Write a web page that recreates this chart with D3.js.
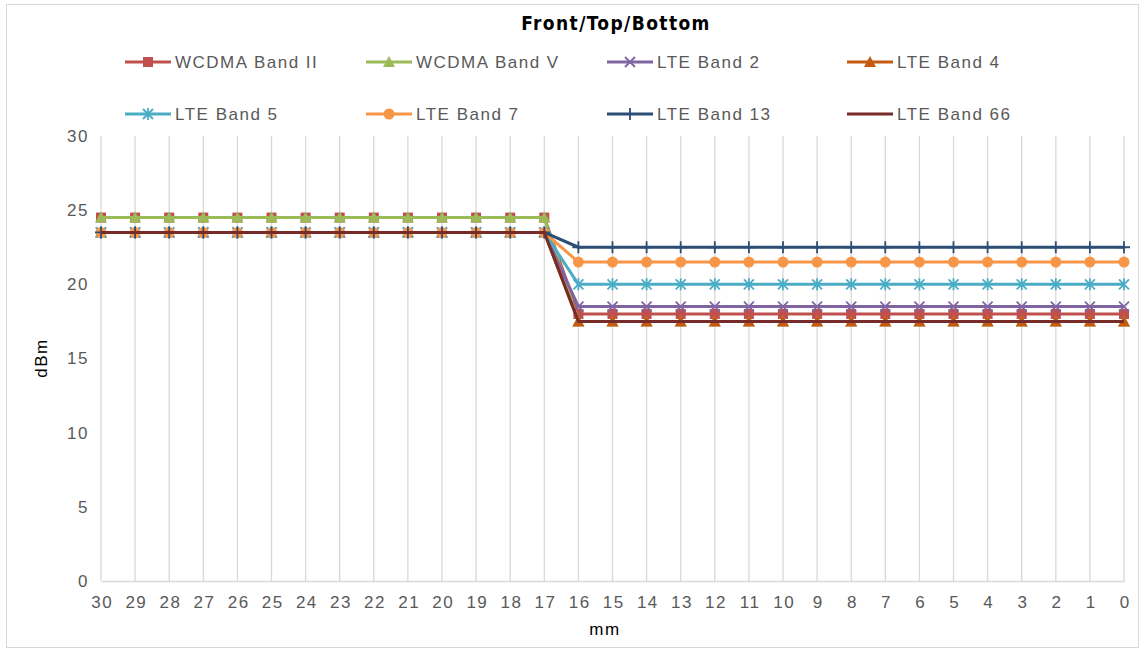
<!DOCTYPE html>
<html><head><meta charset="utf-8">
<script src="https://cdn.jsdelivr.net/npm/d3@7"></script>
<style>body{margin:0;background:#fff;}svg{display:block;}</style>
</head><body>
<svg id="c" width="1145" height="652"></svg>
<script>
const categories = [30,29,28,27,26,25,24,23,22,21,20,19,18,17,16,15,14,13,12,11,10,9,8,7,6,5,4,3,2,1,0];
const seriesNames = ["WCDMA Band II","WCDMA Band V","LTE Band 2","LTE Band 4","LTE Band 5","LTE Band 7","LTE Band 13","LTE Band 66"];
const wcdmaBandII  = [24.5,24.5,24.5,24.5,24.5,24.5,24.5,24.5,24.5,24.5,24.5,24.5,24.5,24.5,18,18,18,18,18,18,18,18,18,18,18,18,18,18,18,18,18];
const wcdmaBandV   = [24.5,24.5,24.5,24.5,24.5,24.5,24.5,24.5,24.5,24.5,24.5,24.5,24.5,24.5,17.5,17.5,17.5,17.5,17.5,17.5,17.5,17.5,17.5,17.5,17.5,17.5,17.5,17.5,17.5,17.5,17.5];
const lteBand2     = [23.5,23.5,23.5,23.5,23.5,23.5,23.5,23.5,23.5,23.5,23.5,23.5,23.5,23.5,18.5,18.5,18.5,18.5,18.5,18.5,18.5,18.5,18.5,18.5,18.5,18.5,18.5,18.5,18.5,18.5,18.5];
const lteBand4     = [23.5,23.5,23.5,23.5,23.5,23.5,23.5,23.5,23.5,23.5,23.5,23.5,23.5,23.5,17.5,17.5,17.5,17.5,17.5,17.5,17.5,17.5,17.5,17.5,17.5,17.5,17.5,17.5,17.5,17.5,17.5];
const lteBand5     = [23.5,23.5,23.5,23.5,23.5,23.5,23.5,23.5,23.5,23.5,23.5,23.5,23.5,23.5,20,20,20,20,20,20,20,20,20,20,20,20,20,20,20,20,20];
const lteBand7     = [23.5,23.5,23.5,23.5,23.5,23.5,23.5,23.5,23.5,23.5,23.5,23.5,23.5,23.5,21.5,21.5,21.5,21.5,21.5,21.5,21.5,21.5,21.5,21.5,21.5,21.5,21.5,21.5,21.5,21.5,21.5];
const lteBand13    = [23.5,23.5,23.5,23.5,23.5,23.5,23.5,23.5,23.5,23.5,23.5,23.5,23.5,23.5,22.5,22.5,22.5,22.5,22.5,22.5,22.5,22.5,22.5,22.5,22.5,22.5,22.5,22.5,22.5,22.5,22.5];
const lteBand66    = [23.5,23.5,23.5,23.5,23.5,23.5,23.5,23.5,23.5,23.5,23.5,23.5,23.5,23.5,17.5,17.5,17.5,17.5,17.5,17.5,17.5,17.5,17.5,17.5,17.5,17.5,17.5,17.5,17.5,17.5,17.5];
const yTicks = [0,5,10,15,20,25,30];
const colors = ["#C0504D","#9BBB59","#8064A2","#C55A11","#4BACC6","#F79646","#2C4D75","#772C2A"];
const markers = ["square","triangle","x","triangle","star","circle","plus","none"];
const seriesValues = [wcdmaBandII,wcdmaBandV,lteBand2,lteBand4,lteBand5,lteBand7,lteBand13,lteBand66];

const svg = d3.select("#c");
const font = "'Liberation Sans', Arial, sans-serif";
const ls = "1.5px";
svg.append("rect").attr("x",6.5).attr("y",4.5).attr("width",1132).attr("height",643)
  .attr("fill","#fff").attr("stroke","#d9d9d9").attr("stroke-width",1);

const x = d3.scalePoint().domain(categories).range([101,1124]);
const y = d3.scaleLinear().domain([0,30]).range([581,136]);

// vertical gridlines
const g = svg.append("g");
g.selectAll("line.vg").data(categories).join("line")
  .attr("x1",d=>x(d)).attr("x2",d=>x(d)).attr("y1",y(30)).attr("y2",y(0))
  .attr("stroke","#d9d9d9").attr("stroke-width",1.3);
// x axis
const xAxis = svg.append("g").attr("transform",`translate(0,${y(0)})`)
  .call(d3.axisBottom(x).tickSize(0).tickPadding(15));
xAxis.select(".domain").attr("stroke","#d9d9d9").attr("stroke-width",1.3);
xAxis.selectAll("text").attr("font-family",font).attr("font-size",17).attr("fill","#595959")
  .attr("letter-spacing",ls).attr("dx","0.75");
// y axis
const yAxis = svg.append("g").attr("transform",`translate(${x(30)},0)`)
  .call(d3.axisLeft(y).tickValues(yTicks).tickSize(0).tickPadding(12));
yAxis.select(".domain").remove();
yAxis.selectAll("text").attr("font-family",font).attr("font-size",17).attr("fill","#595959")
  .attr("letter-spacing",ls);

// titles
svg.append("text").attr("x",616).attr("y",30).attr("text-anchor","middle")
  .attr("font-family","'Liberation Sans Narrow','DejaVu Sans Condensed',Arial,sans-serif")
  .attr("font-weight","bold").attr("font-size",19).attr("letter-spacing","1.4px")
  .attr("fill","#000").text("Front/Top/Bottom");
svg.append("text").attr("x",605).attr("y",635).attr("text-anchor","middle")
  .attr("font-family",font).attr("font-size",17).attr("letter-spacing",ls)
  .attr("fill","#000").text("mm");
svg.append("text").attr("transform","translate(47,358) rotate(-90)").attr("text-anchor","middle")
  .attr("font-family",font).attr("font-size",17).attr("letter-spacing",ls)
  .attr("fill","#000").text("dBm");

function drawMarker(sel, type, color, cx, cy, s) {
  s = s || 1;
  if (type === "square") {
    sel.append("rect").attr("x",cx-5*s).attr("y",cy-5*s).attr("width",10*s).attr("height",10*s).attr("fill",color);
  } else if (type === "triangle") {
    sel.append("path").attr("d",`M${cx},${cy-6*s}L${cx+6*s},${cy+5*s}L${cx-6*s},${cy+5*s}Z`).attr("fill",color);
  } else if (type === "circle") {
    sel.append("circle").attr("cx",cx).attr("cy",cy).attr("r",5.5*s).attr("fill",color);
  } else if (type === "x") {
    const r = 5*s;
    sel.append("path").attr("d",`M${cx-r},${cy-r}L${cx+r},${cy+r}M${cx-r},${cy+r}L${cx+r},${cy-r}`)
      .attr("stroke",color).attr("stroke-width",1.8).attr("fill","none");
  } else if (type === "star") {
    const r = 5*s;
    sel.append("path").attr("d",`M${cx-r},${cy-r}L${cx+r},${cy+r}M${cx-r},${cy+r}L${cx+r},${cy-r}M${cx},${cy-r-1}L${cx},${cy+r+1}`)
      .attr("stroke",color).attr("stroke-width",1.8).attr("fill","none");
  } else if (type === "plus") {
    const r = 6*s;
    sel.append("path").attr("d",`M${cx},${cy-r}L${cx},${cy+r}M${cx-r},${cy}L${cx+r},${cy}`)
      .attr("stroke",color).attr("stroke-width",1.8).attr("fill","none");
  }
}

const line = d3.line().x((d,i)=>x(categories[i])).y(d=>y(d));
seriesValues.forEach((vals,si)=>{
  const sg = svg.append("g");
  sg.append("path").attr("d",line(vals)).attr("fill","none")
    .attr("stroke",colors[si]).attr("stroke-width",3).attr("stroke-linejoin","round");
  vals.forEach((v,i)=>drawMarker(sg, markers[si], colors[si], x(categories[i]), y(v)));
});

// legend
const legX = [125,366,607,847];
const legY = [62,114];
seriesNames.forEach((name,i)=>{
  const lx = legX[i%4], ly = legY[Math.floor(i/4)];
  const lg = svg.append("g");
  lg.append("line").attr("x1",lx).attr("x2",lx+46).attr("y1",ly).attr("y2",ly)
    .attr("stroke",colors[i]).attr("stroke-width",3);
  drawMarker(lg, markers[i], colors[i], lx+23, ly);
  lg.append("text").attr("x",lx+50).attr("y",ly+6).attr("font-family",font)
    .attr("font-size",17).attr("letter-spacing",ls).attr("fill","#595959").text(name);
});
</script>
</body></html>
